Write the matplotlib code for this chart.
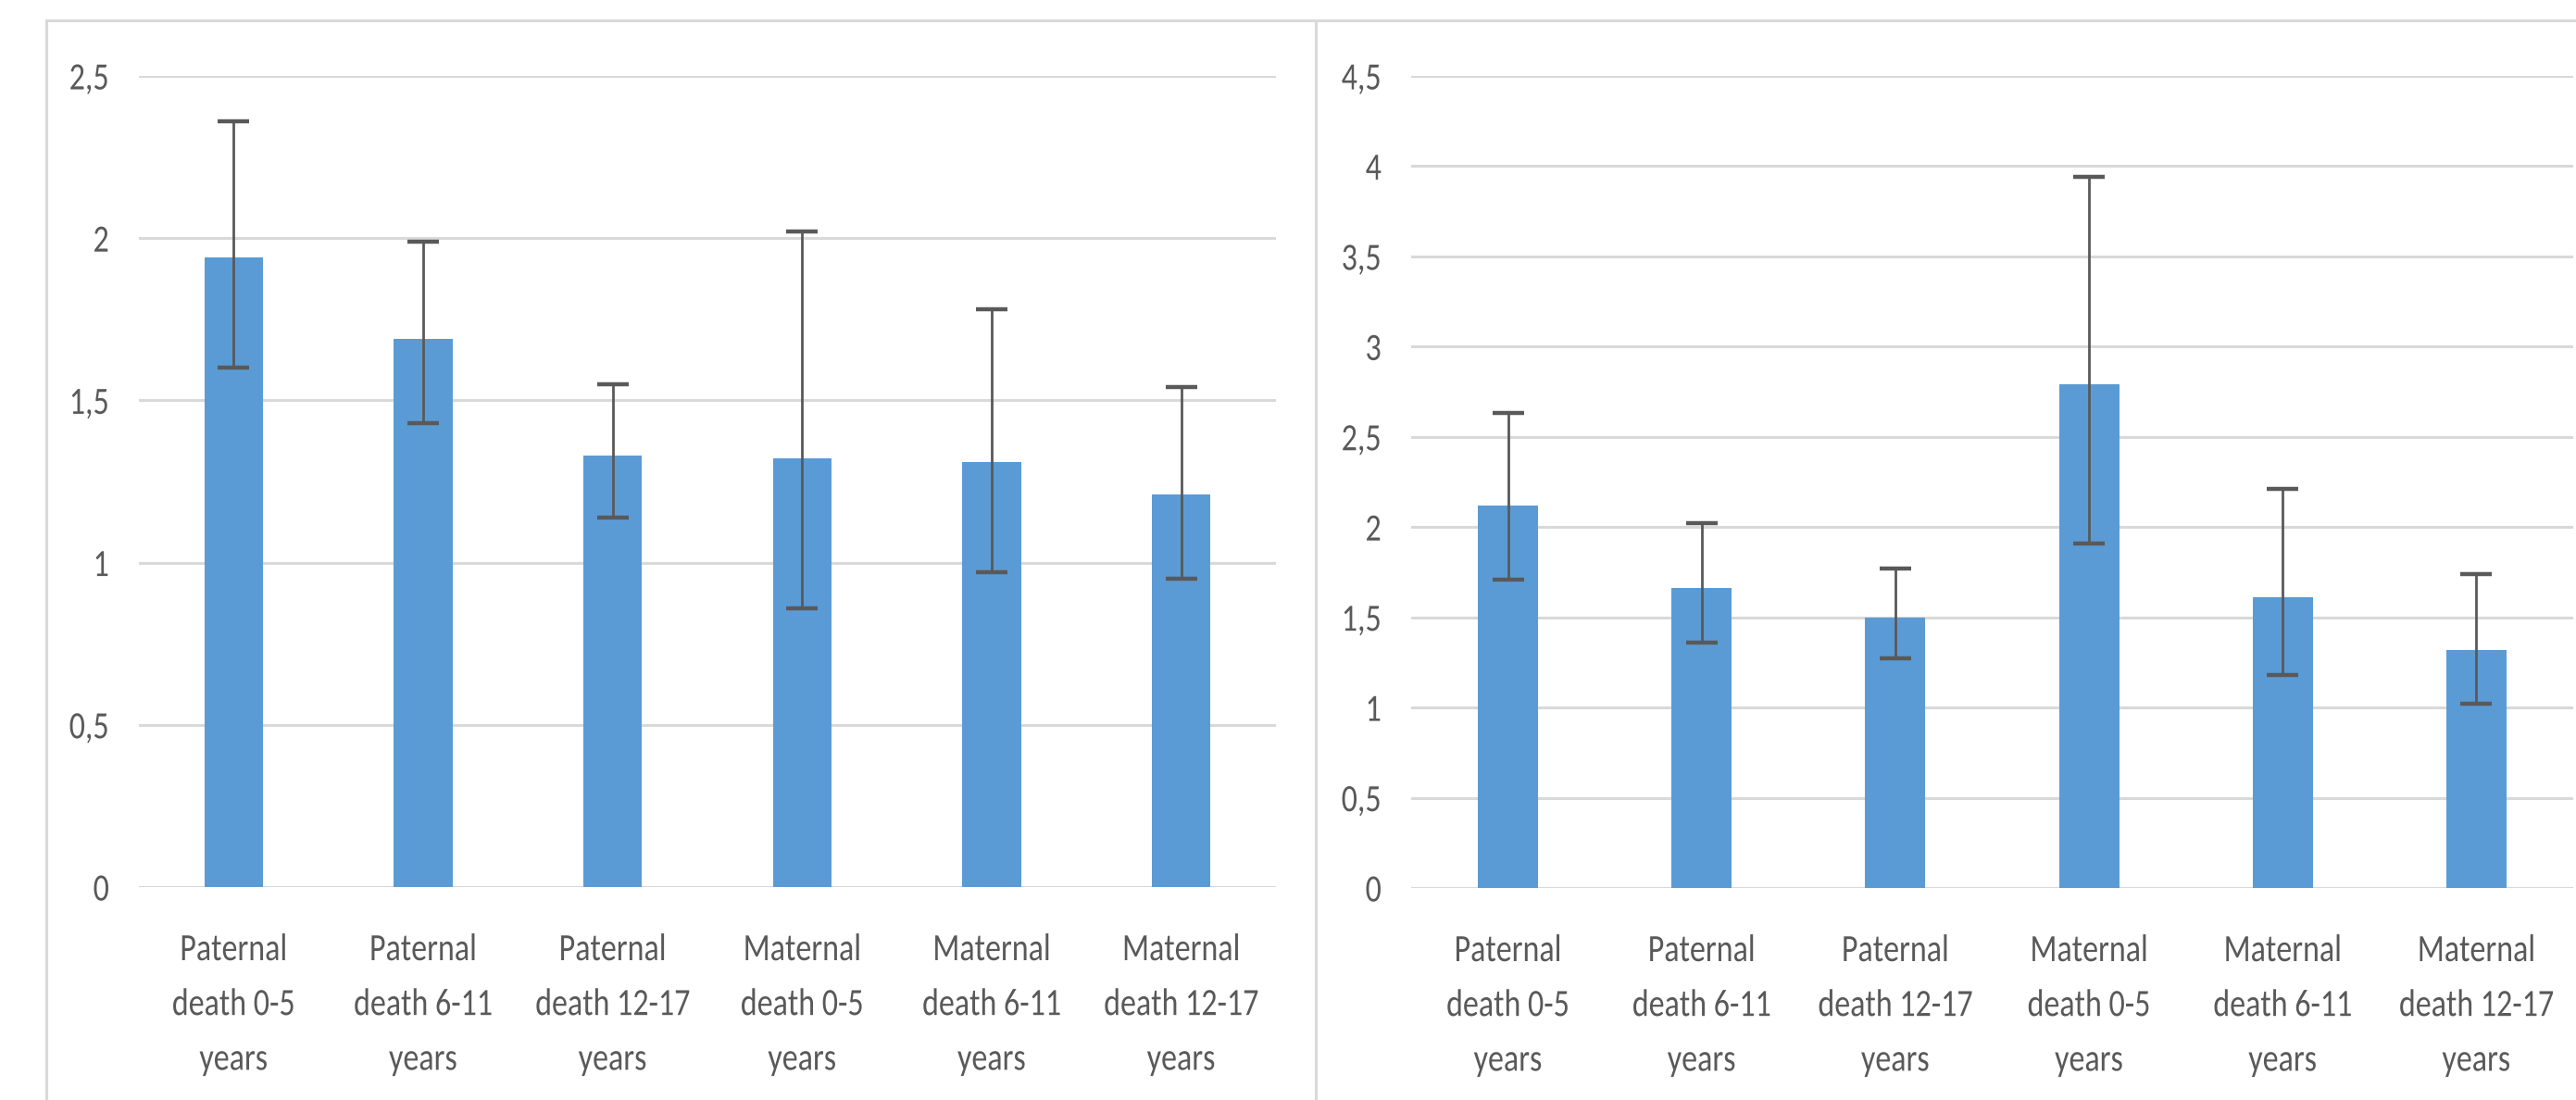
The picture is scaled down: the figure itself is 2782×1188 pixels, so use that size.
import matplotlib
matplotlib.use("Agg")
import matplotlib.pyplot as plt
from matplotlib import font_manager
from matplotlib.lines import Line2D
from matplotlib.patheffects import AbstractPathEffect
from matplotlib.transforms import Affine2D
import numpy as np

# ---- data ----
categories = ["Paternal\ndeath 0-5\nyears", "Paternal\ndeath 6-11\nyears",
              "Paternal\ndeath 12-17\nyears", "Maternal\ndeath 0-5\nyears",
              "Maternal\ndeath 6-11\nyears", "Maternal\ndeath 12-17\nyears"]

left_values = [1.94, 1.69, 1.33, 1.32, 1.31, 1.21]
left_low = [1.60, 1.43, 1.14, 0.86, 0.97, 0.95]
left_high = [2.36, 1.99, 1.55, 2.02, 1.78, 1.54]
left_ticks = [0, 0.5, 1, 1.5, 2, 2.5]
left_ticklabels = ["0", "0,5", "1", "1,5", "2", "2,5"]

right_values = [2.12, 1.66, 1.50, 2.79, 1.61, 1.32]
right_low = [1.71, 1.36, 1.27, 1.91, 1.18, 1.02]
right_high = [2.63, 2.02, 1.77, 3.94, 2.21, 1.74]
right_ticks = [0, 0.5, 1, 1.5, 2, 2.5, 3, 3.5, 4, 4.5]
right_ticklabels = ["0", "0,5", "1", "1,5", "2", "2,5", "3", "3,5", "4", "4,5"]

# ---- style ----
avail = {f.name for f in font_manager.fontManager.ttflist}
fam = [f for f in ["Carlito", "Lato", "Liberation Sans", "DejaVu Sans"] if f in avail]
plt.rcParams['font.family'] = fam

BAR = "#5B9BD5"
GRID = "#D9D9D9"
TXT = "#595959"
W, H = 2782, 1188
DPI = 100
FS = 30


class Squeeze(AbstractPathEffect):
    """Draw text horizontally condensed (the reference uses a condensed look)."""
    def __init__(self, sx, anchor="center"):
        super().__init__()
        self.sx = sx
        self.anchor = anchor

    def draw_path(self, renderer, gc, tpath, affine, rgbFace=None):
        ext = tpath.get_extents()
        if self.anchor == "right":
            cx = ext.x1
        elif self.anchor == "left":
            cx = ext.x0
        else:
            cx = 0.5 * (ext.x0 + ext.x1)
        t = Affine2D().translate(-cx, 0).scale(self.sx, 1).translate(cx, 0) + affine
        renderer.draw_path(gc, tpath, t, rgbFace)


fig = plt.figure(figsize=(W / DPI, H / DPI), dpi=DPI)

# measure to find condensation factor: "Paternal" is ~116 px wide in the reference
_r = fig.canvas.get_renderer()
_t = fig.text(0, 0, "Paternal", fontsize=FS)
_w = _t.get_window_extent(renderer=_r).width
_t.remove()
SX = min(1.0, 116.0 / _w)


def px2fig_x(px):
    return px / W


def px2fig_y(py):
    return 1 - py / H


def make_panel(x0, x1, ytop, ybot, values, low, high, ticks, ticklabels):
    ax = fig.add_axes([px2fig_x(x0), px2fig_y(ybot), px2fig_x(x1) - px2fig_x(x0),
                       px2fig_y(ytop) - px2fig_y(ybot)])
    x = np.arange(len(values))
    v = np.array(values)
    yerr = np.vstack([v - np.array(low), np.array(high) - v])
    ax.bar(x, v, width=0.31, color=BAR, zorder=2)
    ax.errorbar(x, v, yerr=yerr, fmt="none", ecolor=TXT, elinewidth=2.0,
                capsize=12, capthick=3.2, zorder=3)
    ax.set_xlim(-0.5, len(values) - 0.5)
    ax.set_ylim(ticks[0], ticks[-1])
    ax.set_yticks(ticks)
    ax.set_yticklabels(ticklabels)
    ax.set_xticks(x)
    ax.set_xticklabels(categories, linespacing=1.8)
    ax.yaxis.grid(True, color=GRID, linewidth=2.2, zorder=0)
    ax.set_axisbelow(True)
    for s in ax.spines.values():
        s.set_visible(False)
    ax.tick_params(axis="both", length=0, colors=TXT, labelsize=FS)
    ax.tick_params(axis="y", pad=23)
    ax.tick_params(axis="x", pad=36)
    for lab in ax.get_xticklabels():
        lab.set_path_effects([Squeeze(SX, "center")])
    for lab in ax.get_yticklabels():
        lab.set_path_effects([Squeeze(SX, "right")])
    ax.patch.set_alpha(0)
    return ax


make_panel(150, 1378, 82, 958, left_values, left_low, left_high,
           left_ticks, left_ticklabels)
make_panel(1524, 2779, 82, 959, right_values, right_low, right_high,
           right_ticks, right_ticklabels)

# outer chart frames
lw = 2.2
fig.add_artist(Line2D([px2fig_x(50), 1.0], [px2fig_y(22), px2fig_y(22)],
                      color=GRID, linewidth=lw, transform=fig.transFigure))
fig.add_artist(Line2D([px2fig_x(50), px2fig_x(50)], [0, px2fig_y(22)],
                      color=GRID, linewidth=lw, transform=fig.transFigure))
fig.add_artist(Line2D([px2fig_x(1421), px2fig_x(1421)], [0, px2fig_y(22)],
                      color=GRID, linewidth=lw, transform=fig.transFigure))

fig.savefig("out.png", dpi=DPI, facecolor="white")
